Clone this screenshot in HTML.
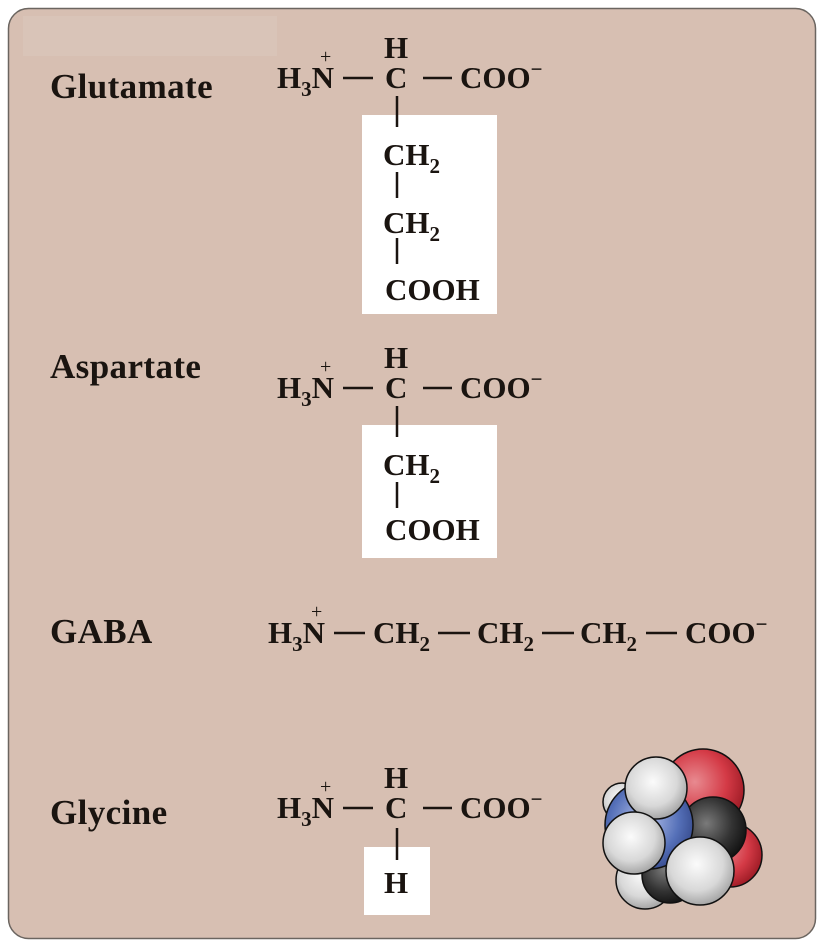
<!DOCTYPE html>
<html><head><meta charset="utf-8"><style>
html,body{margin:0;padding:0;background:#fff;}
svg{display:block;}
text{font-family:"Liberation Serif",serif;font-weight:bold;fill:#1a1410;}
.f{font-size:31px;}
.s{font-size:21px;}
.lab{font-size:35px;letter-spacing:0.4px;}
.p{font-size:20px;font-weight:normal;}
</style></head><body>
<svg width="823" height="946" viewBox="0 0 823 946" xmlns="http://www.w3.org/2000/svg">
<defs>
<radialGradient id="gw" cx="45%" cy="40%" r="65%"><stop offset="0" stop-color="#fbfbfb"/><stop offset="0.6" stop-color="#d8d8d8"/><stop offset="1" stop-color="#9a9a9a"/></radialGradient>
<radialGradient id="gr" cx="40%" cy="40%" r="65%"><stop offset="0" stop-color="#e88a90"/><stop offset="0.6" stop-color="#d43a46"/><stop offset="1" stop-color="#9c1a24"/></radialGradient>
<radialGradient id="gb" cx="45%" cy="45%" r="65%"><stop offset="0" stop-color="#b8c4ec"/><stop offset="0.6" stop-color="#5570b8"/><stop offset="1" stop-color="#2d3f80"/></radialGradient>
<radialGradient id="gk" cx="40%" cy="40%" r="65%"><stop offset="0" stop-color="#7a7a7a"/><stop offset="0.6" stop-color="#333"/><stop offset="1" stop-color="#111"/></radialGradient>
</defs>
<rect x="8.5" y="8.5" width="807" height="930" rx="20" fill="#d7bfb2" stroke="#6b6560" stroke-width="1.5"/>
<rect x="23" y="16" width="254" height="40" fill="#d9c4b8"/>
<rect x="362" y="115" width="135" height="199" fill="#fff"/>
<rect x="362" y="425" width="135" height="133" fill="#fff"/>
<rect x="364" y="847" width="66" height="68" fill="#fff"/>
<g stroke="#1a1410" stroke-width="2.5">
<line x1="343" y1="78" x2="373" y2="78"/><line x1="423" y1="78" x2="452" y2="78"/>
<line x1="397" y1="96" x2="397" y2="127"/>
<line x1="397" y1="172" x2="397" y2="198"/>
<line x1="397" y1="238" x2="397" y2="264"/>
<line x1="343" y1="388" x2="373" y2="388"/><line x1="423" y1="388" x2="452" y2="388"/>
<line x1="397" y1="406" x2="397" y2="437"/>
<line x1="397" y1="482" x2="397" y2="508"/>
<line x1="334" y1="633" x2="365" y2="633"/><line x1="438" y1="633" x2="470" y2="633"/>
<line x1="542" y1="633" x2="574" y2="633"/><line x1="646" y1="633" x2="677" y2="633"/>
<line x1="343" y1="808" x2="373" y2="808"/><line x1="423" y1="808" x2="452" y2="808"/>
<line x1="397" y1="828" x2="397" y2="860"/>
</g>

<text class="lab" x="50" y="98">Glutamate</text>
<text class="f" x="277" y="88">H<tspan class="s" dy="8">3</tspan><tspan dy="-8">N</tspan></text>
<text class="p" x="320" y="63">+</text>
<text class="f" x="384" y="58">H</text>
<text class="f" x="385" y="88">C</text>
<text class="f" x="460" y="88">COO<tspan class="s" dy="-12">−</tspan></text>
<text class="f" x="383" y="165">CH<tspan class="s" dy="8">2</tspan></text>
<text class="f" x="383" y="233">CH<tspan class="s" dy="8">2</tspan></text>
<text class="f" x="385" y="300">COOH</text>

<text class="lab" x="50" y="378">Aspartate</text>
<text class="f" x="277" y="398">H<tspan class="s" dy="8">3</tspan><tspan dy="-8">N</tspan></text>
<text class="p" x="320" y="373">+</text>
<text class="f" x="384" y="368">H</text>
<text class="f" x="385" y="398">C</text>
<text class="f" x="460" y="398">COO<tspan class="s" dy="-12">−</tspan></text>
<text class="f" x="383" y="475">CH<tspan class="s" dy="8">2</tspan></text>
<text class="f" x="385" y="540">COOH</text>

<text class="lab" x="50" y="643">GABA</text>
<text class="f" x="268" y="643">H<tspan class="s" dy="8">3</tspan><tspan dy="-8">N</tspan></text>
<text class="p" x="311" y="618">+</text>
<text class="f" x="373" y="643">CH<tspan class="s" dy="8">2</tspan></text>
<text class="f" x="477" y="643">CH<tspan class="s" dy="8">2</tspan></text>
<text class="f" x="580" y="643">CH<tspan class="s" dy="8">2</tspan></text>
<text class="f" x="685" y="643">COO<tspan class="s" dy="-12">−</tspan></text>

<text class="lab" x="50" y="824">Glycine</text>
<text class="f" x="277" y="818">H<tspan class="s" dy="8">3</tspan><tspan dy="-8">N</tspan></text>
<text class="p" x="320" y="793">+</text>
<text class="f" x="384" y="788">H</text>
<text class="f" x="385" y="818">C</text>
<text class="f" x="460" y="818">COO<tspan class="s" dy="-12">−</tspan></text>
<text class="f" x="384" y="893">H</text>

<g stroke="#111" stroke-width="1.5">
<circle cx="703" cy="790" r="41" fill="url(#gr)"/>
<circle cx="730" cy="855" r="32" fill="url(#gr)"/>
<circle cx="713" cy="830" r="33" fill="url(#gk)"/>
<circle cx="622" cy="802" r="19" fill="url(#gw)"/>
<circle cx="645" cy="880" r="29" fill="url(#gw)"/>
<circle cx="670" cy="875" r="28" fill="url(#gk)"/>
<circle cx="649" cy="825" r="44" fill="url(#gb)"/>
<circle cx="656" cy="788" r="31" fill="url(#gw)"/>
<circle cx="634" cy="843" r="31" fill="url(#gw)"/>
<circle cx="700" cy="871" r="34" fill="url(#gw)"/>
</g>
</svg>
</body></html>
